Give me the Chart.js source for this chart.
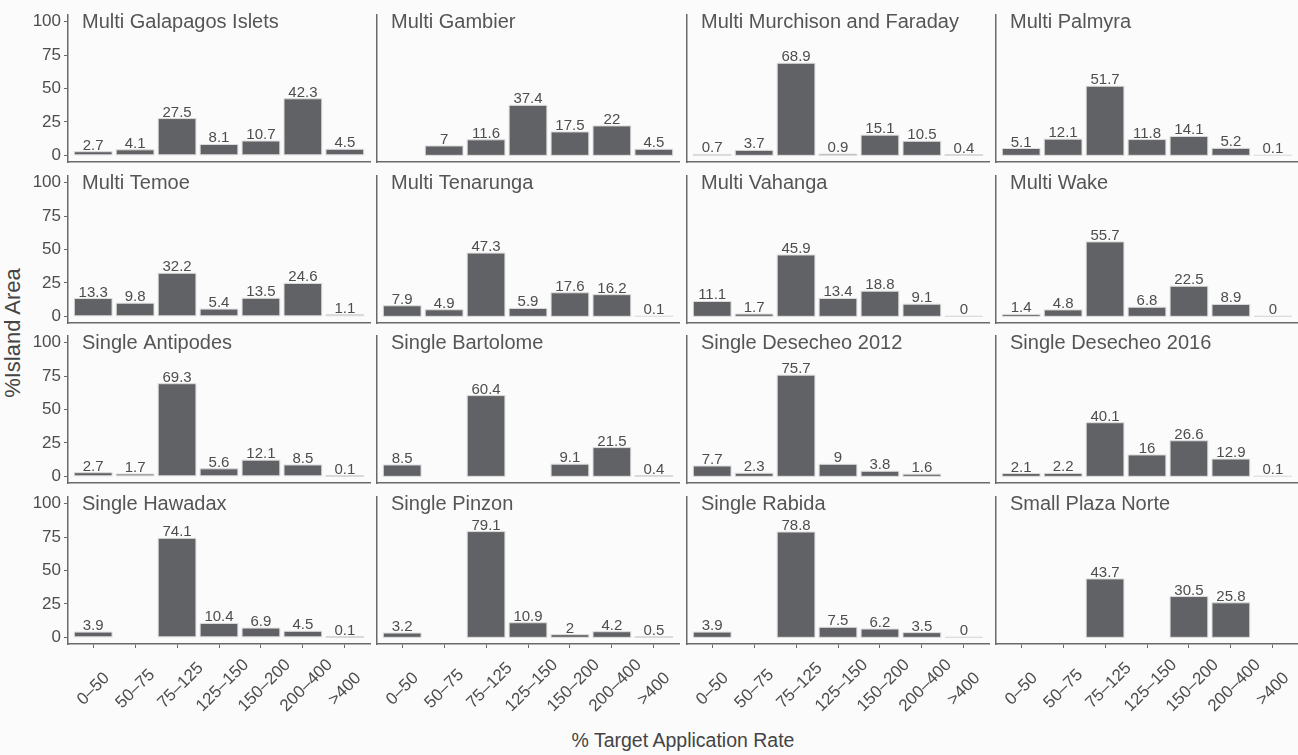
<!DOCTYPE html>
<html><head><meta charset="utf-8">
<script src="https://cdn.jsdelivr.net/npm/chart.js@4.4.0/dist/chart.umd.min.js"></script>
<style>
html,body{margin:0;padding:0;background:#fbfbfb;}
#wrap{position:relative;width:1298px;height:755px;overflow:hidden;font-family:"Liberation Sans",Arial,sans-serif;}
canvas{position:absolute;}
.ytitle{position:absolute;left:13px;top:333px;transform:translate(-50%,-50%) rotate(-90deg);font-size:22px;color:#444;white-space:nowrap;}
.xtitle{position:absolute;left:683px;top:740px;transform:translate(-50%,-50%);font-size:19.5px;color:#444;white-space:nowrap;}
</style></head><body>
<div id="wrap">
<div class="ytitle">%Island Area</div>
<div class="xtitle">% Target Application Rate</div>
</div>
<script>
const categories = ['0–50', '50–75', '75–125', '125–150', '150–200', '200–400', '>400'];
const panelTitles = [
  'Multi Galapagos Islets', 'Multi Gambier', 'Multi Murchison and Faraday', 'Multi Palmyra',
  'Multi Temoe', 'Multi Tenarunga', 'Multi Vahanga', 'Multi Wake',
  'Single Antipodes', 'Single Bartolome', 'Single Desecheo 2012', 'Single Desecheo 2016',
  'Single Hawadax', 'Single Pinzon', 'Single Rabida', 'Small Plaza Norte'
];
const multiGalapagosIslets = [2.7, 4.1, 27.5, 8.1, 10.7, 42.3, 4.5];
const multiGambier = [null, 7, 11.6, 37.4, 17.5, 22, 4.5];
const multiMurchisonFaraday = [0.7, 3.7, 68.9, 0.9, 15.1, 10.5, 0.4];
const multiPalmyra = [5.1, 12.1, 51.7, 11.8, 14.1, 5.2, 0.1];
const multiTemoe = [13.3, 9.8, 32.2, 5.4, 13.5, 24.6, 1.1];
const multiTenarunga = [7.9, 4.9, 47.3, 5.9, 17.6, 16.2, 0.1];
const multiVahanga = [11.1, 1.7, 45.9, 13.4, 18.8, 9.1, 0];
const multiWake = [1.4, 4.8, 55.7, 6.8, 22.5, 8.9, 0];
const singleAntipodes = [2.7, 1.7, 69.3, 5.6, 12.1, 8.5, 0.1];
const singleBartolome = [8.5, null, 60.4, null, 9.1, 21.5, 0.4];
const singleDesecheo2012 = [7.7, 2.3, 75.7, 9, 3.8, 1.6, null];
const singleDesecheo2016 = [2.1, 2.2, 40.1, 16, 26.6, 12.9, 0.1];
const singleHawadax = [3.9, null, 74.1, 10.4, 6.9, 4.5, 0.1];
const singlePinzon = [3.2, null, 79.1, 10.9, 2, 4.2, 0.5];
const singleRabida = [3.9, null, 78.8, 7.5, 6.2, 3.5, 0];
const smallPlazaNorte = [null, null, 43.7, null, 30.5, 25.8, null];
const yTicks = [0, 25, 50, 75, 100];

const panelValues = [
  multiGalapagosIslets, multiGambier, multiMurchisonFaraday, multiPalmyra,
  multiTemoe, multiTenarunga, multiVahanga, multiWake,
  singleAntipodes, singleBartolome, singleDesecheo2012, singleDesecheo2016,
  singleHawadax, singlePinzon, singleRabida, smallPlazaNorte
];

const FONT = '"Liberation Sans", Arial, sans-serif';
const TEXT = '#4d4d4d';
const AXIS = '#6a6a6a';
const XTICK_SIZE = 17;

// rotated x labels in the reference are mostly start-anchored: pad shorter ones
const mctx = document.createElement('canvas').getContext('2d');
mctx.font = XTICK_SIZE + 'px ' + FONT;
const spaceW = mctx.measureText(' ').width;
const maxLabelW = Math.max(...categories.map(s => mctx.measureText(s).width));
const paddedLabel = s => s + ' '.repeat(Math.max(0, Math.round(0.7 * (maxLabelW - mctx.measureText(s).width) / spaceW)));

const barLabelPlugin = {
  id: 'barLabels',
  afterDatasetsDraw(chart) {
    const ctx = chart.ctx;
    const meta = chart.getDatasetMeta(0);
    const pts = chart.data.datasets[0].data;
    ctx.save();
    meta.data.forEach((bar, i) => {
      const v = pts[i].y;
      if (v === null || v === undefined) return;
      const top = Math.min(bar.y, bar.base);
      const h = Math.abs(bar.base - bar.y);
      ctx.strokeStyle = '#dcdcdc';
      ctx.lineWidth = 1;
      ctx.strokeRect(bar.x - bar.width / 2, top, bar.width, h);
      ctx.fillStyle = TEXT;
      ctx.font = '15px ' + FONT;
      ctx.textAlign = 'center';
      ctx.textBaseline = 'alphabetic';
      ctx.fillText(String(v), bar.x, top - 2);
    });
    ctx.restore();
  },
  afterDraw(chart) {
    const t = chart.options.plugins.barLabels && chart.options.plugins.barLabels.title;
    if (!t) return;
    const ctx = chart.ctx;
    ctx.save();
    ctx.fillStyle = '#555';
    ctx.font = '20px ' + FONT;
    ctx.textAlign = 'left';
    ctx.textBaseline = 'alphabetic';
    ctx.fillText(t, chart.chartArea.left + 14, chart.chartArea.top + 13);
    ctx.restore();
  }
};

const wrap = document.getElementById('wrap');
const PANEL_W = 302, PANEL_H = 147, PAD_TOP = 14, PAD_RIGHT = 14;

panelValues.forEach((values, idx) => {
  const r = Math.floor(idx / 4), c = idx % 4;
  const isLeft = c === 0, isBottom = r === 3;
  const panelL = Math.round(68 + c * 309.3);
  const panelT = Math.round(15.3 + r * 160.4);
  const yAxisW = isLeft ? panelL : 60;
  const xAxisH = isBottom ? 100 : 4;
  const padBottom = isBottom ? 0 : 14;
  const canvasLeft = panelL - yAxisW;
  const canvasTop = panelT - PAD_TOP;
  const cw = yAxisW + PANEL_W + PAD_RIGHT;
  const ch = PAD_TOP + PANEL_H + xAxisH + padBottom;
  const cv = document.createElement('canvas');
  cv.width = cw; cv.height = ch;
  cv.style.left = canvasLeft + 'px';
  cv.style.top = canvasTop + 'px';
  cv.style.width = cw + 'px';
  cv.style.height = ch + 'px';
  wrap.appendChild(cv);

  new Chart(cv, {
    type: 'bar',
    data: {
      datasets: [{
        data: values.map((v, i) => ({ x: i, y: v })),
        backgroundColor: '#616265',
        borderWidth: 0,
        barPercentage: 0.9,
        categoryPercentage: 1.0
      }]
    },
    options: {
      responsive: false,
      animation: false,
      devicePixelRatio: 1,
      layout: { padding: { top: PAD_TOP, right: PAD_RIGHT, left: 0, bottom: padBottom } },
      plugins: {
        legend: { display: false },
        tooltip: { enabled: false },
        barLabels: { title: panelTitles[idx] }
      },
      scales: {
        x: {
          type: 'linear', min: -0.6, max: 6.6, offset: false,
          afterBuildTicks: s => { s.ticks = categories.map((_, i) => ({ value: i })); },
          afterFit: s => { s.height = xAxisH; },
          grid: { display: isBottom, drawOnChartArea: false, drawTicks: true, tickLength: 4, color: AXIS, offset: false },
          border: { display: true, color: AXIS, width: 1.5 },
          ticks: {
            display: isBottom, autoSkip: false, minRotation: 45, maxRotation: 45,
            labelOffset: 27, padding: 7,
            font: { size: XTICK_SIZE, family: FONT }, color: TEXT,
            callback: (v) => paddedLabel(categories[v])
          }
        },
        y: {
          min: -5, max: 105,
          afterBuildTicks: s => { s.ticks = yTicks.map(v => ({ value: v })); },
          afterFit: s => { s.width = yAxisW; },
          grid: { display: isLeft, drawOnChartArea: false, drawTicks: true, tickLength: 4, color: AXIS },
          border: { display: true, color: AXIS, width: 1.5 },
          ticks: { display: isLeft, padding: 3, font: { size: 17, family: FONT }, color: TEXT }
        }
      }
    },
    plugins: [barLabelPlugin]
  });
});
</script>
</body></html>
